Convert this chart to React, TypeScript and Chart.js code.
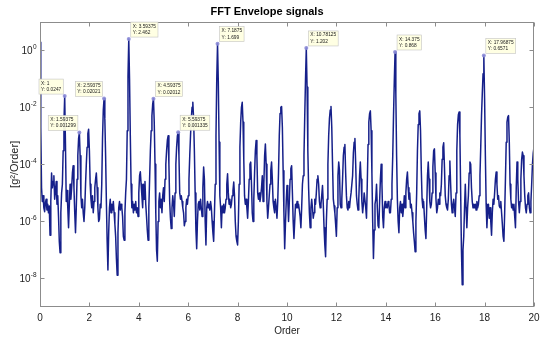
import React, { useEffect, useRef } from "react";
import { Chart, registerables } from "chart.js";

Chart.register(...registerables);

// FFT bin spacing (orders per bin)
const orderStep = 0.03125;

// Envelope spectrum amplitude [g^2/Order], one row per order (32 bins each)
const envelope: number[] = [
  1.9, 2e-3, 1.5e-5, 5e-6, 8e-6, 3e-6, 2.2e-6, 4.5e-6, 6e-6, 2.5e-6, 4e-6, 2e-6, 3.5e-6, 3.3e-7, 5e-6, 5e-5, 1.5e-5, 2.5e-5, 4e-5, 6e-6, 1.2e-5, 2.5e-5, 4e-6, 8e-6, 1.5e-6, 2e-7, 8e-8, 2e-6, 1e-5, 2e-5, 3e-4, 3e-3,
  0.0247, 5e-4, 5e-6, 1.2e-5, 3e-6, 6e-7, 4e-6, 2e-5, 6e-6, 1.5e-5, 5e-5, 9e-5, 1.5e-5, 2e-6, 4e-7, 3e-6, 3e-5, 2e-4, 8e-4, 0.001299, 2e-4, 8e-6, 3e-6, 6e-6, 2e-6, 1e-6, 3e-6, 2e-5, 1e-4, 4e-4, 1.2e-3, 1.7e-3,
  3e-4, 2e-5, 6e-6, 3e-6, 8e-6, 2e-6, 5e-6, 1.5e-5, 3e-5, 5e-5, 1.5e-5, 3e-6, 1e-6, 1.2e-6, 4e-6, 3e-6, 2e-5, 8e-4, 8e-3, 0.02021, 4e-3, 2e-4, 5e-6, 2e-7, 2e-8, 4e-7, 3e-6, 6e-6, 2e-6, 4e-6, 2.5e-6, 5e-6,
  2e-6, 8e-7, 3e-7, 5e-8, 1.3e-8, 4e-7, 3e-6, 5e-6, 2.5e-6, 4e-6, 3e-6, 1.5e-6, 3e-7, 2.2e-7, 2e-6, 1e-5, 3e-5, 1.5e-3, 0.12, 2.462, 0.1, 1e-3, 2e-5, 3e-6, 5e-6, 2e-6, 4e-6, 2.5e-6, 5e-6, 2e-6, 3e-6, 1.5e-6,
  1e-5, 4e-5, 5.5e-5, 2e-5, 8e-6, 3e-6, 2e-5, 6e-6, 2.5e-5, 4e-6, 1.5e-6, 5e-7, 2.2e-7, 3e-6, 3e-5, 3e-4, 1.5e-3, 5e-3, 0.013, 0.02012, 3e-3, 1e-4, 2e-6, 1e-7, 4e-8, 1e-6, 5e-6, 1e-5, 3e-6, 6e-6, 2e-6, 8e-6,
  1.5e-5, 5e-6, 3e-5, 1e-4, 3e-4, 7e-4, 1e-3, 1e-4, 5e-6, 1.3e-6, 5.6e-7, 3e-6, 8e-6, 4e-6, 1.5e-6, 1e-5, 1e-4, 4e-4, 1e-3, 0.001335, 2e-4, 1e-5, 6e-6, 8e-6, 5e-6, 3e-6, 2e-6, 7e-7, 1e-6, 3e-6, 6e-6, 4e-6,
  8e-6, 3e-5, 2e-4, 1e-3, 4e-3, 0.01, 0.015, 4e-3, 3e-4, 1e-5, 5e-7, 1.1e-7, 1e-6, 4e-6, 5e-6, 2.5e-6, 6e-6, 3e-6, 1.5e-6, 1.5e-5, 8e-5, 3e-5, 1e-6, 1.5e-7, 3e-6, 5e-6, 3e-6, 4e-6, 2.5e-6, 5e-6, 3e-6, 1e-6,
  4e-7, 2e-7, 2e-6, 2e-5, 1e-3, 0.1, 1.699, 0.08, 6e-4, 8e-6, 3e-6, 6e-7, 3.5e-6, 2e-6, 4e-6, 2e-6, 3e-6, 6e-6, 2e-5, 4.7e-5, 1e-5, 4e-6, 6e-6, 3e-6, 4e-6, 8e-6, 1.2e-5, 2.4e-5, 8e-6, 1e-6, 3e-7, 2e-7,
  1.5e-7, 1e-6, 2e-5, 4e-4, 3e-3, 0.01, 0.015, 3e-3, 1.5e-4, 8e-6, 4e-6, 6e-6, 3e-6, 1.3e-6, 5e-6, 3e-5, 1e-4, 1.2e-4, 2e-5, 2e-6, 1e-6, 6e-6, 5e-5, 3e-4, 6.8e-4, 2e-4, 1e-5, 6e-6, 1e-5, 5e-6, 8e-6, 1.5e-5,
  4e-5, 5e-6, 2e-5, 2e-4, 5.2e-4, 1e-4, 5e-6, 1.3e-6, 3e-6, 8e-6, 2e-5, 6e-5, 1.2e-4, 3e-5, 5e-6, 3e-6, 2e-6, 6e-6, 3e-6, 1.3e-6, 5e-6, 5e-5, 1e-3, 6e-3, 0.01, 0.0107, 2e-3, 6e-5, 2e-6, 1.1e-7, 8e-7, 5e-6,
  1.8e-5, 6e-6, 1e-6, 5e-6, 3e-5, 7e-5, 9e-5, 1e-5, 1e-6, 2.5e-7, 1e-6, 4e-6, 3e-6, 5e-6, 3e-6, 4e-6, 2.5e-6, 1.5e-6, 6e-7, 3e-6, 2e-5, 4e-5, 2e-4, 5e-3, 0.1, 1.202, 0.05, 3e-4, 1.5e-5, 2e-6, 6e-7, 3e-6,
  6e-6, 3e-6, 1.3e-6, 2e-6, 6e-6, 4e-6, 1e-5, 3e-5, 4e-5, 2e-5, 5e-6, 3e-6, 4e-6, 8e-6, 1.8e-5, 4e-6, 6e-7, 1.5e-7, 5.8e-8, 1e-6, 6e-6, 1e-4, 1e-3, 4e-3, 8e-3, 0.0107, 2e-3, 1e-4, 6e-6, 3.5e-6, 2e-6, 8e-7,
  3e-7, 3e-6, 4e-5, 1.2e-4, 6e-5, 4e-6, 3e-6, 6e-6, 3e-5, 2e-4, 4e-4, 5e-4, 5e-5, 8e-6, 3e-6, 2.5e-6, 5e-6, 3e-6, 6e-6, 1e-5, 1e-5, 4e-5, 2.5e-4, 6e-4, 8e-4, 1e-4, 8e-6, 4e-6, 2.5e-6, 6e-6, 4e-5, 1.2e-4,
  3e-5, 5e-6, 2e-6, 4e-6, 1e-5, 1e-5, 3e-6, 1.3e-6, 2e-5, 5e-4, 3e-3, 6e-3, 7.5e-3, 1.5e-3, 5e-5, 1e-6, 5e-8, 5e-7, 4e-6, 6e-6, 2e-5, 3e-6, 7e-7, 6e-7, 5e-6, 3e-5, 1e-4, 2e-5, 1.5e-6, 6e-7, 3e-6, 5e-6,
  3e-6, 4e-6, 3e-6, 5e-6, 4e-6, 2e-6, 2e-6, 6e-6, 2e-5, 2e-4, 5e-3, 0.08, 0.868, 0.03, 2e-4, 6e-6, 1e-6, 4e-7, 3e-6, 5e-6, 2e-6, 4e-6, 1.5e-6, 3e-6, 8e-6, 3e-6, 1e-5, 3e-5, 5.4e-5, 1.5e-5, 6e-6, 1e-5,
  3e-6, 4e-6, 2e-6, 1e-6, 4e-7, 2e-7, 8.7e-8, 1e-6, 1e-5, 3e-4, 2.5e-3, 6e-3, 7.5e-3, 1.5e-3, 6e-5, 6e-6, 3e-6, 5e-6, 1.5e-6, 5e-7, 2.5e-7, 3e-6, 4e-5, 1.2e-4, 3e-5, 5e-6, 3e-6, 4e-6, 1e-5, 8e-5, 3e-4, 3.5e-4,
  5e-5, 6e-6, 2e-6, 3e-6, 6e-6, 4e-6, 1e-5, 8e-6, 2e-5, 1.5e-4, 4e-4, 5.7e-4, 8e-5, 8e-6, 4e-6, 3e-6, 2.5e-6, 6e-6, 4e-5, 1.3e-4, 2e-5, 4e-6, 2e-6, 4e-6, 6e-6, 3e-6, 1.5e-6, 1e-5, 3e-4, 2.5e-3, 5.5e-3, 6.8e-3,
  1e-3, 1e-5, 1e-7, 6e-9, 1e-7, 3e-7, 3e-6, 2e-5, 3e-6, 6e-7, 3e-6, 8e-6, 5e-5, 1.2e-4, 1e-4, 1.5e-5, 5e-6, 3e-6, 4e-6, 3e-6, 4e-6, 2.5e-6, 5e-6, 3e-6, 4e-6, 8e-6, 4e-5, 4e-4, 5e-3, 0.03, 0.15, 0.6571,
  0.02, 2e-4, 4e-6, 6e-7, 3e-6, 4e-6, 1.3e-6, 3e-6, 1e-6, 3.3e-7, 2e-6, 6e-6, 4e-6, 1e-5, 3e-5, 5.4e-5, 2e-5, 6e-6, 8e-6, 3.5e-6, 3e-6, 5e-6, 2e-6, 8e-7, 3e-7, 2e-7, 2e-6, 3e-5, 6e-4, 3e-3, 4.5e-3, 5.1e-3,
  6e-4, 2e-5, 6e-6, 3e-6, 4e-6, 2.5e-6, 4e-6, 1.5e-6, 6e-7, 1.5e-5, 1.2e-4, 3e-5, 5e-6, 2e-6, 5e-6, 3e-5, 1.5e-4, 2.7e-4, 2e-4, 4e-5, 8e-6, 3e-6, 2e-6, 4e-6, 8e-6, 1e-5, 3e-6, 2e-6, 5e-6, 2e-5, 1e-4, 2.5e-4,
  4e-4,
];

const xTickValues = [0, 2, 4, 6, 8, 10, 12, 14, 16, 18, 20];
const yTickValues = [1, 1e-2, 1e-4, 1e-6, 1e-8];
const yTickBase = "10";
const yTickExponents = ["0", "-2", "-4", "-6", "-8"];

// Data tips
const tipOrders = [1, 1.59375, 2.59375, 3.59375, 4.59375, 5.59375, 7.1875, 10.78125, 14.375, 17.96875];
const tipValues = [0.0247, 0.001299, 0.02021, 2.462, 0.02012, 0.001335, 1.699, 1.202, 0.868, 0.6571];
const tipSide = ["left", "left", "left", "right", "right", "right", "right", "right", "right", "right"];

const FONT = '"Liberation Sans", Arial, Helvetica, sans-serif';

const framePlugin = {
  id: "matlabFrame",
  afterDatasetsDraw(chart: any) {
    const { ctx, chartArea: a, scales } = chart;
    const xs = scales.x;
    const ys = scales.y;
    ctx.save();
    // axes box
    ctx.strokeStyle = "#8c8c8c";
    ctx.lineWidth = 1;
    const L = Math.round(a.left) + 0.5;
    const T = Math.round(a.top) + 0.5;
    const R = Math.round(a.right) - 0.5;
    const B = Math.round(a.bottom) - 0.5;
    ctx.strokeRect(L, T, R - L, B - T);
    // inward ticks
    ctx.beginPath();
    for (const v of xTickValues) {
      const px = Math.round(xs.getPixelForValue(v)) + 0.5;
      ctx.moveTo(px, B);
      ctx.lineTo(px, B - 4);
      ctx.moveTo(px, T);
      ctx.lineTo(px, T + 4);
    }
    for (const v of yTickValues) {
      const py = Math.round(ys.getPixelForValue(v)) + 0.5;
      ctx.moveTo(L, py);
      ctx.lineTo(L + 4, py);
      ctx.moveTo(R, py);
      ctx.lineTo(R - 4, py);
    }
    ctx.stroke();

    // y tick labels: 10 with superscript exponent
    ctx.fillStyle = "#222";
    ctx.textBaseline = "middle";
    for (let i = 0; i < yTickValues.length; i++) {
      const py = ys.getPixelForValue(yTickValues[i]);
      ctx.font = `6.5px ${FONT}`;
      const ew = ctx.measureText(yTickExponents[i]).width;
      const ex = a.left - 3.5 - ew;
      ctx.textAlign = "left";
      ctx.fillText(yTickExponents[i], ex, py - 2.8);
      ctx.font = `10px ${FONT}`;
      ctx.textAlign = "right";
      ctx.fillText(yTickBase, ex - 0.2, py + 1.2);
    }

    // data tips
    ctx.font = `4.8px ${FONT}`;
    ctx.textBaseline = "middle";
    ctx.textAlign = "left";
    for (let i = 0; i < tipOrders.length; i++) {
      const px = xs.getPixelForValue(tipOrders[i]);
      const py = ys.getPixelForValue(tipValues[i]);
      const l1 = `X: ${tipOrders[i]}`;
      const l2 = `Y: ${tipValues[i]}`;
      const w = Math.max(ctx.measureText(l1).width, ctx.measureText(l2).width) + 4;
      const h = 15;
      let bx = tipSide[i] === "right" ? px + 2 : px - 1.5 - w;
      if (bx < a.left - 1) bx = a.left - 1;
      let by = py - 17;
      if (by < a.top) by = a.top;
      ctx.fillStyle = "rgba(255,255,226,0.95)";
      ctx.fillRect(bx, by, w, h);
      ctx.strokeStyle = "#c4c4c4";
      ctx.lineWidth = 0.6;
      ctx.strokeRect(bx, by, w, h);
      ctx.fillStyle = "#1a1a1a";
      ctx.fillText(l1, bx + 2, by + 4.2);
      ctx.fillText(l2, bx + 2, by + 10.6);
      // marker
      ctx.beginPath();
      ctx.arc(px, py, 2, 0, Math.PI * 2);
      ctx.fillStyle = "rgba(140,140,215,0.9)";
      ctx.fill();
    }
    ctx.restore();
  },
};

export default function App() {
  const ref = useRef<HTMLCanvasElement | null>(null);

  useEffect(() => {
    if (!ref.current) return;
    const points = envelope.map((v, i) => ({ x: i * orderStep, y: v }));
    const chart = new Chart(ref.current, {
      type: "line",
      data: {
        datasets: [
          {
            data: points,
            borderColor: "#16208a",
            borderWidth: 1.5,
            pointRadius: 0,
            tension: 0,
            fill: false,
            borderJoinStyle: "round",
          } as any,
        ],
      },
      options: {
        responsive: false,
        animation: false,
        parsing: false as any,
        layout: { padding: { left: 0, right: 16, top: 0, bottom: 0 } },
        plugins: {
          legend: { display: false },
          tooltip: { enabled: false },
          title: {
            display: true,
            text: "FFT Envelope signals",
            color: "#000",
            font: { family: FONT, size: 11, weight: "bold" },
            padding: { top: 5.5, bottom: 3 },
          },
        },
        scales: {
          x: {
            type: "linear",
            min: 0,
            max: 20,
            grid: { display: false, drawTicks: false },
            border: { display: false },
            afterBuildTicks: (s: any) => {
              s.ticks = xTickValues.map((v) => ({ value: v }));
            },
            afterFit: (s: any) => {
              s.height = 34;
            },
            ticks: {
              color: "#222",
              font: { family: FONT, size: 10 },
              padding: 5,
              maxRotation: 0,
              autoSkip: false,
            },
            title: {
              display: true,
              text: "Order",
              color: "#222",
              font: { family: FONT, size: 10 },
              padding: { top: 0, bottom: 3.5 },
            },
          },
          y: {
            type: "logarithmic",
            min: 1e-9,
            max: 10,
            grid: { display: false, drawTicks: false },
            border: { display: false },
            afterBuildTicks: (s: any) => {
              s.ticks = yTickValues.map((v) => ({ value: v }));
            },
            afterFit: (s: any) => {
              s.width = 40;
            },
            ticks: {
              display: false,
            },
            title: {
              display: true,
              text: "[g\u00B2/Order]",
              color: "#222",
              font: { family: FONT, size: 11 },
              padding: { top: 8.5, bottom: 0 },
            },
          },
        },
      },
      plugins: [framePlugin],
    });
    return () => chart.destroy();
  }, []);

  return (
    <div style={{ position: "fixed", left: 0, top: 0, width: 550, height: 341, background: "#fff" }}>
      <canvas ref={ref} width={550} height={341} style={{ display: "block" }} />
    </div>
  );
}
